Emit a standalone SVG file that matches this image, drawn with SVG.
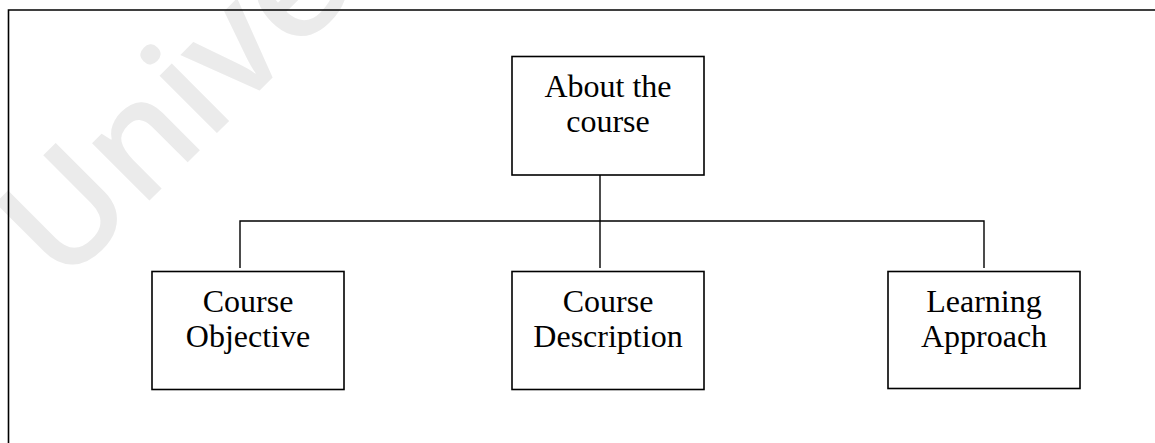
<svg xmlns="http://www.w3.org/2000/svg" width="1155" height="443" viewBox="0 0 1155 443">
  <style>
    .box { fill: #ffffff; stroke: #000000; stroke-width: 1.6; }
    .wire { fill: none; stroke: #000000; stroke-width: 1.4; }
    .label { font-family: "Liberation Serif", "Times New Roman", serif; font-size: 32px; fill: #000000; text-anchor: middle; }
    .mark { font-family: "Open Sans", "Noto Sans", sans-serif; font-size: 150px; font-weight: 600; fill: #ebebeb; }
  </style>

  <rect width="1155" height="443" fill="#ffffff"/>

  <!-- faint background watermark -->
  <text class="mark" transform="translate(62 288) rotate(-45)">Unive</text>

  <!-- page frame -->
  <path d="M8.5 443 V10 H1155" fill="none" stroke="#000000" stroke-width="1.6"/>

  <!-- connectors -->
  <g id="connectors">
    <path class="wire" d="M600 175 V268"/>
    <path class="wire" d="M240 268 V221 H984 V268"/>
  </g>

  <g id="about-course">
    <rect class="box" x="512" y="56.5" width="192" height="118.5"/>
    <text class="label" x="608" y="97">About the</text>
    <text class="label" x="608" y="132">course</text>
  </g>

  <g id="course-objective">
    <rect class="box" x="152" y="271.5" width="192" height="118"/>
    <text class="label" x="248" y="312">Course</text>
    <text class="label" x="248" y="347">Objective</text>
  </g>

  <g id="course-description">
    <rect class="box" x="512" y="271.5" width="192" height="118"/>
    <text class="label" x="608" y="312">Course</text>
    <text class="label" x="608" y="347">Description</text>
  </g>

  <g id="learning-approach">
    <rect class="box" x="888" y="271.5" width="192" height="117"/>
    <text class="label" x="984" y="312">Learning</text>
    <text class="label" x="984" y="347">Approach</text>
  </g>
</svg>
